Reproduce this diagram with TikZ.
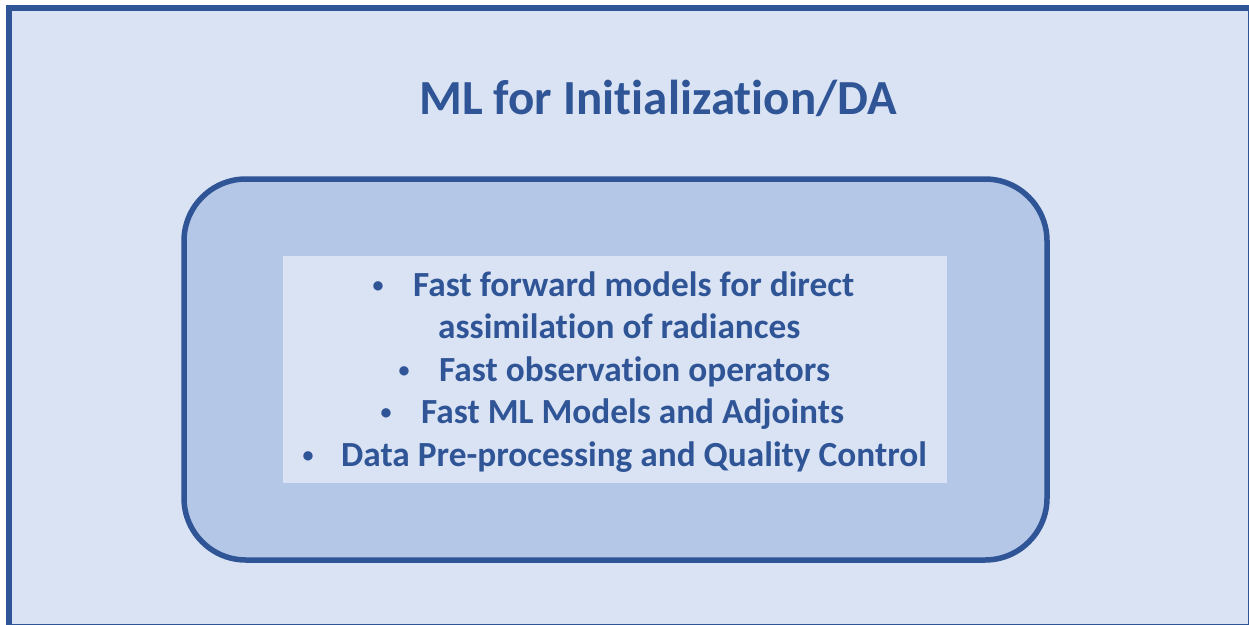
\documentclass[tikz,border=0pt]{standalone}
\usepackage{fontspec}
\setmainfont{Carlito}[Ligatures=CommonOff]
\definecolor{frameblue}{HTML}{2F5597}
\definecolor{paleblue}{HTML}{DAE3F3}
\definecolor{midblue}{HTML}{B4C7E7}
\definecolor{textblue}{HTML}{2F5597}
\begin{document}
\begin{tikzpicture}[x=1pt,y=-1pt,
  outerframe/.style={draw=frameblue,fill=paleblue,line width=6pt},
  roundbox/.style={draw=frameblue,fill=midblue,line width=5.5pt,rounded corners=62pt},
  listbox/.style={fill=paleblue},
  titletext/.style={text=textblue,font=\fontsize{49}{58}\selectfont\bfseries,inner sep=0pt,anchor=base},
  itemtext/.style={text=textblue,font=\fontsize{35.3}{42}\selectfont\bfseries,inner sep=0pt,anchor=base west},
  bullet/.style={text=textblue,font=\fontsize{22}{28}\selectfont\bfseries,inner sep=0pt,anchor=base}]
\useasboundingbox (0,0) rectangle (1249,624);
\begin{scope}
\clip (0,0) rectangle (1249,624);
\draw[outerframe] (9,8) rectangle (1251,627);
\end{scope}
\draw[roundbox] (184,179) rectangle (1047,560);
\fill[listbox] (283,256) rectangle (947,483);
\node[titletext] (title) at (658,114) {ML for Initialization/DA};
% bullet list, one line per node
\node[bullet] (b1) at (378,292) {•};
\node[itemtext] (l1) at (413,296) {Fast forward models for direct};
\node[itemtext] (l2) at (438,338.5) {assimilation of radiances};
\node[bullet] (b3) at (404,377) {•};
\node[itemtext] (l3) at (439,381) {Fast observation operators};
\node[bullet] (b4) at (386,419.5) {•};
\node[itemtext] (l4) at (421,423.5) {Fast ML Models and Adjoints};
\node[bullet] (b5) at (308,462) {•};
\node[itemtext] (l5) at (341,466) {Data Pre-processing and Quality Control};
\end{tikzpicture}
\end{document}
